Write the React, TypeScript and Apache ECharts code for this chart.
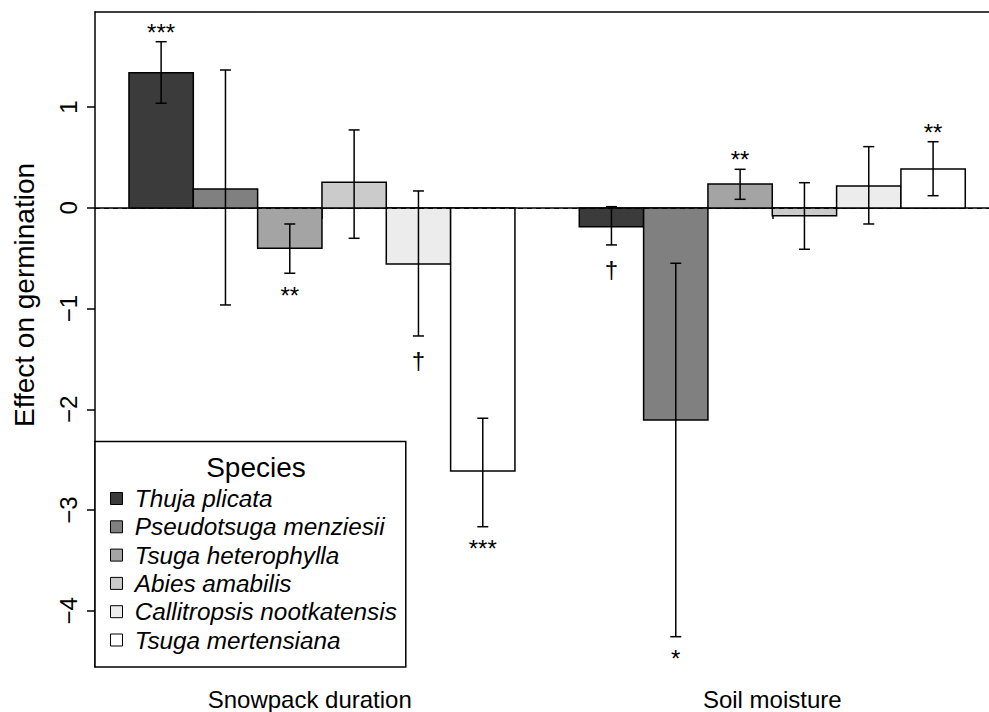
import React, { useEffect, useRef } from "react";
import * as echarts from "echarts";

const groups = ["Snowpack duration", "Soil moisture"];
const species = [
  "Thuja plicata",
  "Pseudotsuga menziesii",
  "Tsuga heterophylla",
  "Abies amabilis",
  "Callitropsis nootkatensis",
  "Tsuga mertensiana",
];

// Snowpack duration
const snowEffect = [1.343, 0.188, -0.401, 0.254, -0.557, -2.613];
const snowLow = [1.039, -0.964, -0.649, -0.302, -1.272, -3.166];
const snowHigh = [1.65, 1.369, -0.16, 0.774, 0.168, -2.089];
const snowSig = ["***", "", "**", "", "†", "***"];

// Soil moisture
const soilEffect = [-0.187, -2.106, 0.237, -0.077, 0.217, 0.386];
const soilLow = [-0.368, -4.258, 0.085, -0.411, -0.16, 0.121];
const soilHigh = [0.012, -0.55, 0.383, 0.25, 0.608, 0.657];
const soilSig = ["†", "*", "**", "", "", "**"];

const yTicks = [-4, -3, -2, -1, 0, 1];

const fills = ["#3b3b3b", "#808080", "#a4a4a4", "#cbcbcb", "#ececec", "#ffffff"];

const effects = [snowEffect, soilEffect];
const lows = [snowLow, soilLow];
const highs = [snowHigh, soilHigh];
const sigs = [snowSig, soilSig];

const FONT = "Liberation Sans, Arial, Helvetica, sans-serif";

export default function App() {
  const ref = useRef<HTMLDivElement>(null);

  useEffect(() => {
    document.body.style.margin = "0";
    const chart = echarts.init(ref.current!, null, { renderer: "svg" });
    const n = species.length;
    const groupCenters = groups.map((_, gi) => gi * (n + 1) + 1 + n / 2);
    // the first group label sits slightly left of its tick in the reference
    const labelShift = [-0.19, 0];
    const labelValues = groupCenters.map((c, gi) => c + labelShift[gi]);

    const series: any[] = species.map((name, s) => ({
      type: "custom",
      name,
      itemStyle: { color: fills[s], borderColor: "#000", borderWidth: 1 },
      data: groups.map((_, gi) => [
        gi * (n + 1) + 1 + s,
        effects[gi][s],
        lows[gi][s],
        highs[gi][s],
      ]),
      renderItem: (params: any, api: any) => {
        const gi = params.dataIndex;
        const left = api.value(0);
        const v = api.value(1);
        const lo = api.value(2);
        const hi = api.value(3);
        const a = api.coord([left, v]);
        const b = api.coord([left + 1, 0]);
        const xc = api.coord([left + 0.5, 0])[0];
        const yLo = api.coord([left, lo])[1];
        const yHi = api.coord([left, hi])[1];
        const cap = 5.5;
        const ls = { stroke: "#000", lineWidth: 1.5 };
        const children: any[] = [
          {
            type: "rect",
            shape: {
              x: Math.min(a[0], b[0]),
              y: Math.min(a[1], b[1]),
              width: Math.abs(b[0] - a[0]),
              height: Math.abs(b[1] - a[1]),
            },
            style: { fill: fills[s], stroke: "#000", lineWidth: 1.5 },
          },
          { type: "line", shape: { x1: xc, y1: yLo, x2: xc, y2: yHi }, style: ls },
          { type: "line", shape: { x1: xc - cap, y1: yLo, x2: xc + cap, y2: yLo }, style: ls },
          { type: "line", shape: { x1: xc - cap, y1: yHi, x2: xc + cap, y2: yHi }, style: ls },
        ];
        const sig = sigs[gi][s];
        if (sig) {
          const y = v >= 0 ? yHi - 9.5 : yLo + (sig === "†" ? 25 : 22);
          children.push({
            type: "text",
            x: xc,
            y,
            style: {
              text: sig,
              fill: "#000",
              fontSize: 24,
              fontFamily: FONT,
              align: "center",
              verticalAlign: "middle",
            },
          });
        }
        return { type: "group", children };
      },
      markLine:
        s === 0
          ? {
              silent: true,
              symbol: "none",
              label: { show: false },
              lineStyle: { type: [5, 4], color: "#000", width: 1.2 },
              data: [{ yAxis: 0 }],
            }
          : undefined,
    }));

    chart.setOption({
      animation: false,
      backgroundColor: "#fff",
      grid: {
        show: false,
        left: 95,
        top: 12,
        right: 0,
        height: 655,
      },
      xAxis: [
        {
          type: "value",
          min: 0.472,
          max: 14.369,
          splitLine: { show: false },
          axisLine: { show: true, lineStyle: { color: "#000", width: 1.5 } },
          axisTick: {
            show: true,
            customValues: groupCenters,
            length: 11,
            lineStyle: { color: "#000", width: 1.5 },
          },
          axisLabel: {
            customValues: labelValues,
            formatter: (v: number) => {
              let best = 0;
              labelValues.forEach((lv, i) => {
                if (Math.abs(lv - v) < Math.abs(labelValues[best] - v)) best = i;
              });
              return groups[best];
            },
            fontSize: 24,
            fontFamily: FONT,
            color: "#000",
            margin: 20,
          },
        },
        {
          type: "value",
          position: "top",
          min: 0.472,
          max: 14.369,
          splitLine: { show: false },
          axisLine: { show: true, onZero: false, lineStyle: { color: "#000", width: 1.5 } },
          axisTick: { show: false },
          axisLabel: { show: false },
        },
      ],
      yAxis: {
        type: "value",
        min: -4.559,
        max: 1.945,
        splitLine: { show: false },
        axisLine: { show: true, onZero: false, lineStyle: { color: "#000", width: 1.5 } },
        axisTick: {
          show: true,
          customValues: yTicks,
          length: 8,
          lineStyle: { color: "#000", width: 1.5 },
        },
        axisLabel: {
          customValues: yTicks,
          rotate: 90,
          margin: 15,
          fontSize: 24,
          fontFamily: FONT,
          color: "#000",
          formatter: (v: number) => (v < 0 ? "\u2212" + Math.abs(v) : String(v)),
        },
      },
      legend: {
        data: species,
        orient: "vertical",
        left: 95,
        bottom: 45,
        padding: [45, 9, 15, 15],
        itemGap: 4.3,
        itemWidth: 26.6,
        itemHeight: 12,
        icon: "path://M0,0h10v10h-10z",
        itemStyle: { borderColor: "#000", borderWidth: 1 },
        backgroundColor: "#fff",
        borderColor: "#000",
        borderWidth: 1.5,
        borderRadius: 0,
        selectedMode: false,
        textStyle: {
          fontSize: 24.3,
          lineHeight: 24,
          fontStyle: "italic",
          fontFamily: FONT,
          color: "#000",
        },
      },
      graphic: [
        {
          type: "text",
          z: 100,
          x: 256,
          y: 467,
          style: {
            text: "Species",
            fontSize: 28,
            fontFamily: FONT,
            fill: "#000",
            align: "center",
            verticalAlign: "middle",
          },
        },
        {
          type: "text",
          z: 100,
          x: 24,
          y: 295,
          rotation: Math.PI / 2,
          style: {
            text: "Effect on germination",
            fontSize: 28,
            fontFamily: FONT,
            fill: "#000",
            align: "center",
            verticalAlign: "middle",
          },
        },
      ],
      series,
    });

    return () => chart.dispose();
  }, []);

  return (
    <div
      ref={ref}
      style={{ position: "fixed", left: 0, top: 0, width: 989, height: 712 }}
    />
  );
}
